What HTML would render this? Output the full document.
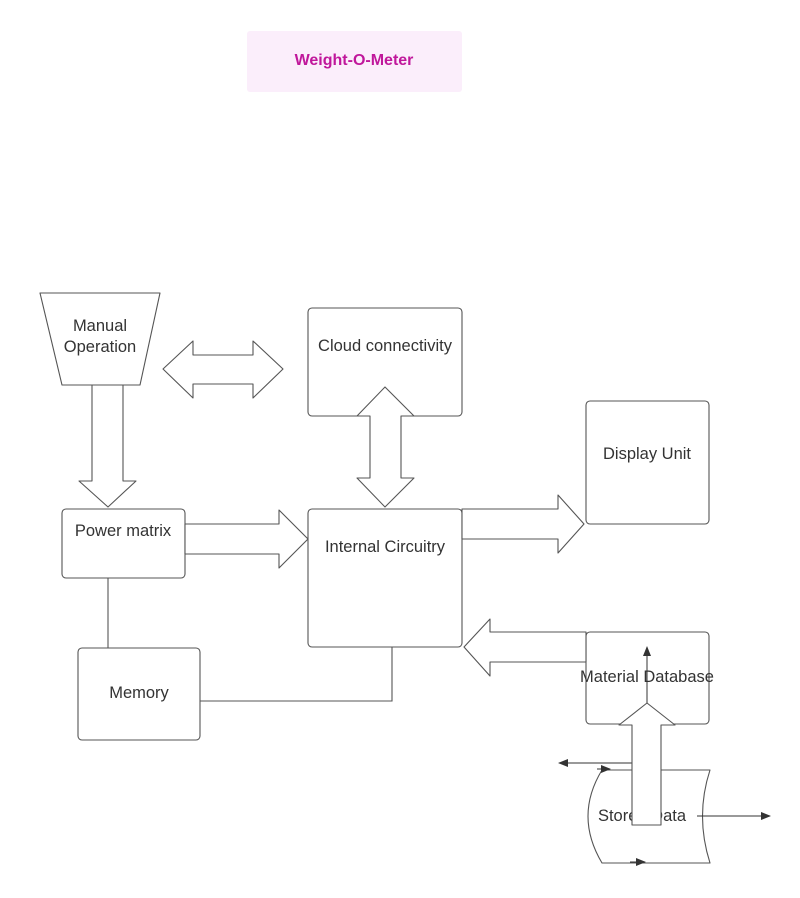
<!DOCTYPE html>
<html><head><meta charset="utf-8"><style>
html,body{margin:0;padding:0;background:#fff;}
svg{display:block;}
text{font-family:"Liberation Sans",sans-serif;fill:#333;font-size:16.5px;}
</style></head><body>
<svg width="800" height="898" viewBox="0 0 800 898" xmlns="http://www.w3.org/2000/svg">
<defs>
<marker id="ah" markerWidth="10" markerHeight="10" refX="9" refY="5" orient="auto" markerUnits="userSpaceOnUse">
<path d="M0,1 L10,5 L0,9 Z" fill="#333"/></marker>
</defs>
<rect x="247" y="31" width="215" height="61" rx="3" fill="#fbeefb"/>
<text x="354" y="65" text-anchor="middle" style="font-weight:bold;fill:#c0179b;font-size:16px">Weight-O-Meter</text>

<g fill="#fff" stroke="#555" stroke-width="1.1" stroke-linejoin="round">
<path d="M40,293 L160,293 L140,385 L62,385 Z"/>
<path d="M92,385 L123,385 L123,481 L136,481 L108,507 L79,481 L92,481 Z"/>
<path d="M163,369 L193,341 L193,355 L253,355 L253,341 L283,369 L253,398 L253,384 L193,384 L193,398 Z"/>
<rect x="308" y="308" width="154" height="108" rx="4"/>
<rect x="586" y="401" width="123" height="123" rx="4"/>
<rect x="308" y="509" width="154" height="138" rx="4"/>
<path d="M385,387 L414,416 L401,416 L401,478 L414,478 L385,507 L357,478 L370,478 L370,416 L357,416 Z"/>
<rect x="62" y="509" width="123" height="69" rx="4"/>
<path d="M185,524 L279,524 L279,510 L308,539 L279,568 L279,554 L185,554 Z"/>
<path d="M462,509 L558,509 L558,495 L584,524 L558,553 L558,539 L462,539 Z"/>
<rect x="586" y="632" width="123" height="92" rx="4"/>
<path d="M586,632 L490,632 L490,619 L464,647 L490,676 L490,662 L586,662 Z"/>
<rect x="78" y="648" width="122" height="92" rx="4"/>
<path d="M602,770 L710,770 Q695,816 710,863 L602,863 Q574,816 602,770 Z"/>
</g>
<g fill="none" stroke="#555" stroke-width="1.1">
<path d="M108,578 L108,648"/>
<path d="M200,701 L392,701 L392,647"/>
</g>
<g stroke="#333" stroke-width="1" fill="none">
<path d="M632,763 L559,763" marker-end="url(#ah)"/>
<path d="M597,769 L610,769" marker-end="url(#ah)"/>
<path d="M630,862 L645,862" marker-end="url(#ah)"/>
<path d="M697,816 L770,816" marker-end="url(#ah)"/>
</g>
<text x="100" y="331" text-anchor="middle">Manual</text>
<text x="100" y="352" text-anchor="middle">Operation</text>
<text x="385" y="351" text-anchor="middle">Cloud connectivity</text>
<text x="647" y="459" text-anchor="middle">Display Unit</text>
<text x="123" y="536" text-anchor="middle">Power matrix</text>
<text x="385" y="552" text-anchor="middle">Internal Circuitry</text>
<text x="139" y="698" text-anchor="middle">Memory</text>
<text x="647" y="682" text-anchor="middle">Material Database</text>
<text x="642" y="821" text-anchor="middle">Stored Data</text>
<path d="M632,825 L632,725 L619,725 L647,703 L675,725 L661,725 L661,825 Z" fill="#fff" stroke="#555" stroke-width="1.1" stroke-linejoin="round"/>
<path d="M647,703 L647,647" stroke="#333" stroke-width="1" marker-end="url(#ah)"/>
</svg>
</body></html>
